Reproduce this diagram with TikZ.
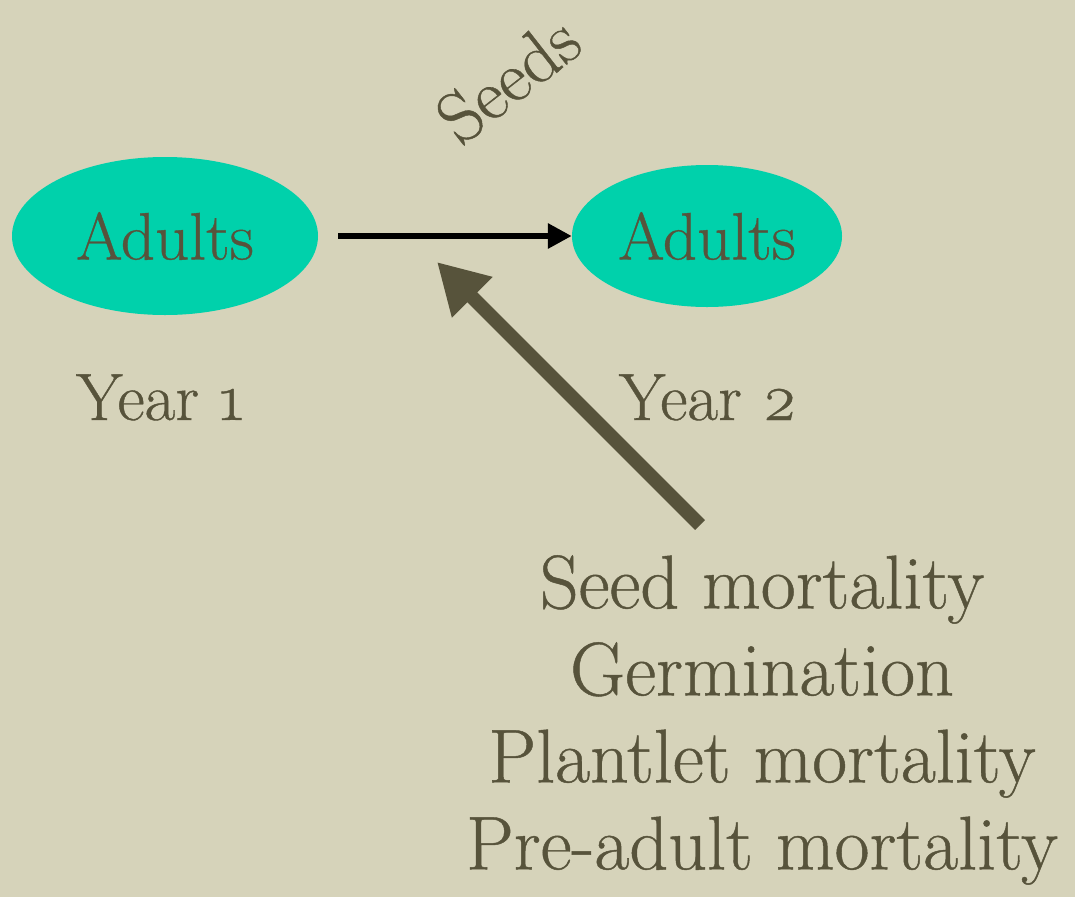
\documentclass[tikz,border=0pt]{standalone}
\usepackage{fontspec}
\setmainfont{Latin Modern Roman}
\newfontfamily\inkfont{Latin Modern Roman}[FakeBold=0.6]
\usetikzlibrary{shapes.geometric,arrows.meta}
\definecolor{bgpaper}{HTML}{D6D3BA}
\definecolor{teal}{HTML}{00D1AB}
\definecolor{inkbrown}{HTML}{57533B}
\tikzset{
  adultbox/.style={ellipse, fill=teal, inner sep=0pt, text=inkbrown, font=\inkfont\fontsize{67}{67}\selectfont},
  lbl/.style={text=inkbrown, inner sep=0pt, font=\inkfont\fontsize{67}{67}\selectfont},
  biglbl/.style={text=inkbrown, inner sep=0pt, align=center, font=\inkfont\fontsize{76}{87}\selectfont},
  thinarrow/.style={draw=black, line width=6pt, -{Triangle[length=24pt,width=24pt]}},
  thickarrow/.style={draw=inkbrown, line width=14pt, -{Triangle[length=50pt,width=54pt]}}
}
\begin{document}
\begin{tikzpicture}[x=1pt,y=-1pt]
\fill[bgpaper] (0,0) rectangle (1075,897);
\useasboundingbox (0,0) rectangle (1075,897);
\node[adultbox, minimum width=306pt, minimum height=158pt] (a1) at (165,236) {Adults};
\node[adultbox, minimum width=270pt, minimum height=142pt] (a2) at (707,236) {Adults};
\node[lbl, anchor=base] (y1) at (160,420) {Year \oldstylenums{1}};
\node[lbl, anchor=base] (y2) at (708,420) {Year \oldstylenums{2}};
\node[lbl, rotate=38, font=\inkfont\fontsize{72}{72}\selectfont] (seeds) at (508,79) {Seeds};
\node[biglbl, anchor=north] (mort) at (762,555) {Seed mortality\\Germination\\Plantlet mortality\\Pre-adult mortality};
\coordinate (tail) at (700,525);
\coordinate (tip) at (437,262);
\draw[thinarrow, shorten <=20pt] (a1.east) -- (a2.west);
\draw[thickarrow] (tail) -- (tip);
\end{tikzpicture}
\end{document}
